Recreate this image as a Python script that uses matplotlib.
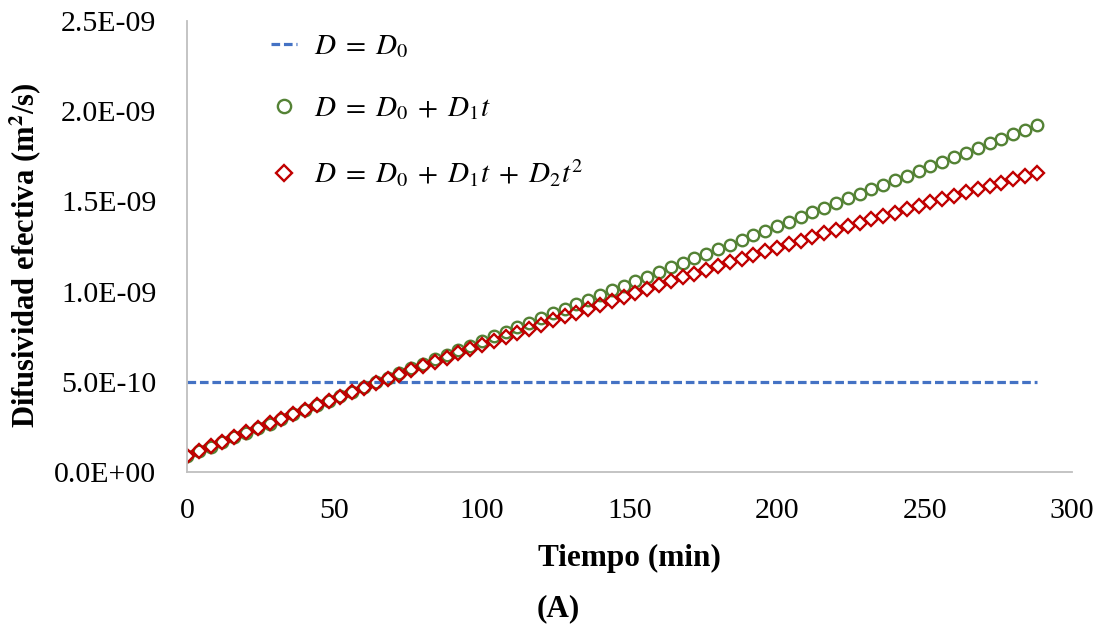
import matplotlib
matplotlib.use('Agg')
import matplotlib.pyplot as plt
from matplotlib.ticker import FuncFormatter, MultipleLocator

plt.rcParams['font.family'] = ['Liberation Serif', 'DejaVu Serif']
plt.rcParams['mathtext.fontset'] = 'stix'

# Tiempo de secado (min), un punto cada 4 min
tiempo = list(range(0, 289, 4))

# Difusividad efectiva en unidades de 1E-09 m2/s
d_const = 0.50
d_lineal = [0.090, 0.115, 0.141, 0.166, 0.192, 0.217, 0.243, 0.268, 0.294, 0.319,
            0.345, 0.370, 0.396, 0.421, 0.446, 0.472, 0.497, 0.523, 0.548, 0.574,
            0.599, 0.625, 0.650, 0.676, 0.701, 0.727, 0.752, 0.777, 0.803, 0.828,
            0.854, 0.879, 0.905, 0.930, 0.956, 0.981, 1.007, 1.032, 1.057, 1.083,
            1.108, 1.134, 1.159, 1.185, 1.210, 1.236, 1.261, 1.287, 1.312, 1.338,
            1.363, 1.388, 1.414, 1.439, 1.465, 1.490, 1.516, 1.541, 1.567, 1.592,
            1.618, 1.643, 1.669, 1.694, 1.719, 1.745, 1.770, 1.796, 1.821, 1.847,
            1.872, 1.898, 1.923]
d_cuad = [0.090, 0.116, 0.142, 0.168, 0.193, 0.219, 0.244, 0.269, 0.294, 0.319,
          0.344, 0.369, 0.394, 0.418, 0.443, 0.467, 0.491, 0.515, 0.539, 0.563,
          0.587, 0.610, 0.634, 0.657, 0.680, 0.704, 0.727, 0.750, 0.772, 0.795,
          0.817, 0.840, 0.862, 0.884, 0.906, 0.928, 0.950, 0.972, 0.993, 1.015,
          1.036, 1.058, 1.079, 1.100, 1.121, 1.141, 1.162, 1.182, 1.203, 1.223,
          1.243, 1.263, 1.283, 1.303, 1.323, 1.342, 1.362, 1.381, 1.400, 1.419,
          1.438, 1.457, 1.476, 1.495, 1.513, 1.532, 1.550, 1.568, 1.586, 1.604,
          1.622, 1.640, 1.657]

escala = 1e-9

fig = plt.figure(figsize=(11.03, 6.30), dpi=100)
ax = fig.add_axes([0.1695, 0.2508, 0.8025, 0.7159])

ax.plot(tiempo, [d_const * escala] * len(tiempo), color='#4472C4', lw=2.3,
        ls=(0, (2.7, 1.2)), label=r'$D\;=\;D_0$')
ax.plot(tiempo, [v * escala for v in d_lineal], ls='none', marker='o', ms=8.3,
        mfc='none', mec='#548235', mew=1.7, label=r'$D\;=\;D_0\;+\;D_1t$')
ax.plot(tiempo, [v * escala for v in d_cuad], ls='none', marker='D', ms=7.0,
        mfc='none', mec='#C00000', mew=1.7,
        label=r'$D\;=\;D_0\;+\;D_1t\;+\;D_2t^2$')

ax.set_xlim(0, 300)
ax.set_ylim(0, 2.5e-9)
ax.xaxis.set_major_locator(MultipleLocator(50))
ax.yaxis.set_major_locator(MultipleLocator(0.5e-9))
ax.yaxis.set_major_formatter(FuncFormatter(lambda v, p: f'{v:.1E}'))
ax.tick_params(length=0, labelsize=21.5)
ax.tick_params(axis='y', pad=22)
ax.tick_params(axis='x', pad=19)

for s in ['top', 'right']:
    ax.spines[s].set_visible(False)
for s in ['left', 'bottom']:
    ax.spines[s].set_color('#BFBFBF')
    ax.spines[s].set_linewidth(1.3)

ax.set_xlabel('Tiempo (min)', fontsize=22.5, fontweight='bold', labelpad=14)
ax.set_ylabel('Difusividad efectiva (m$^\\mathbf{2}$/s)', fontsize=22,
              fontweight='bold')
ax.yaxis.set_label_coords(-0.161, 0.48)

leg = ax.legend(loc='upper left', bbox_to_anchor=(0.065, 1.03), frameon=False,
                fontsize=21, handlelength=0.9, handletextpad=0.6,
                labelspacing=1.2, markerscale=1.15)

fig.text(0.506, 0.022, '(A)', fontsize=22.5, fontweight='bold', ha='center')

fig.savefig('out.png', dpi=100)
